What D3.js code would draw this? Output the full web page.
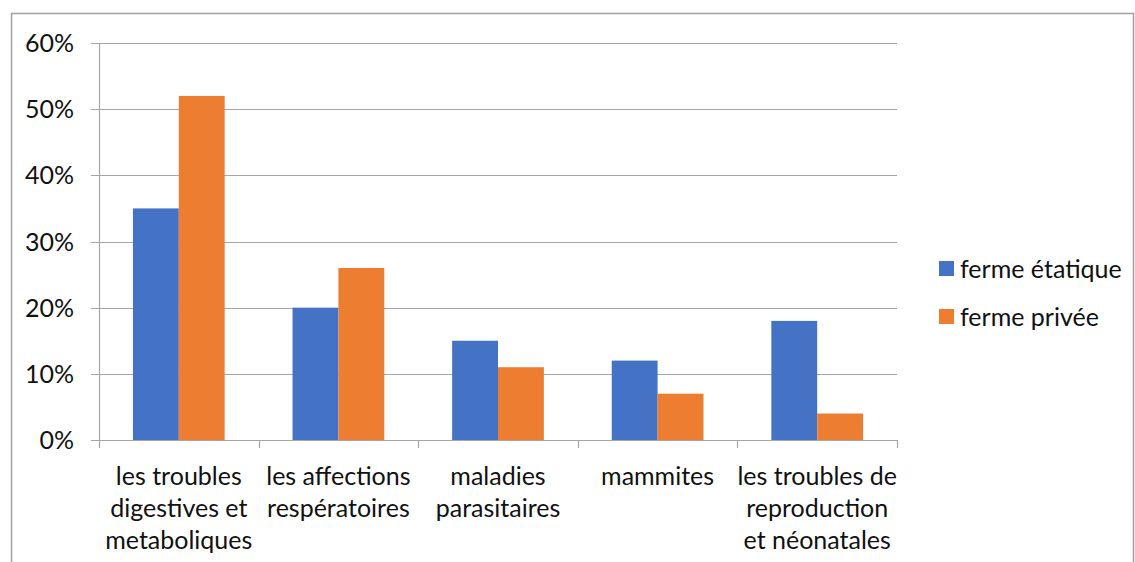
<!DOCTYPE html>
<html><head><meta charset="utf-8">
<script src="https://cdn.jsdelivr.net/npm/d3@7"></script>
<style>body{margin:0;background:#fff;} svg{display:block;font-family:Lato, "Open Sans", sans-serif;}</style>
</head><body>
<svg id="c" width="1135" height="562"></svg>
<script>
const categories = [
  ["les troubles", "digestives et", "metaboliques"],
  ["les affections", "respératoires"],
  ["maladies", "parasitaires"],
  ["mammites"],
  ["les troubles de", "reproduction", "et néonatales"]
];
const seriesNames = ["ferme étatique", "ferme privée"];
const etatique = [0.35, 0.20, 0.15, 0.12, 0.18];
const privee = [0.52, 0.26, 0.11, 0.07, 0.04];
const yTicks = [0, 0.1, 0.2, 0.3, 0.4, 0.5, 0.6];
const colors = ["#4472C4", "#ED7D31"];

const svg = d3.select("#c");
const L = 99, R = 897, T = 43, B = 440;
const FS = 25;
// frame
svg.append("path").attr("d", "M11.5,562 V13.5 H1133.5 V562").attr("fill", "none").attr("stroke", "#a0a0a0").attr("stroke-width", 1.5);

const x = d3.scaleBand().domain(d3.range(categories.length)).range([L, R]).paddingInner(0).paddingOuter(0);
const x1 = d3.scaleBand().domain([0, 1]).range([0, x.bandwidth()]).paddingInner(0).paddingOuter(0.74);
const y = d3.scaleLinear().domain([0, 0.6]).range([B, T]);

// gridlines
svg.append("g").selectAll("line").data(yTicks).join("line")
  .attr("x1", L - 8).attr("x2", R).attr("y1", d => Math.round(y(d)) + 0.5).attr("y2", d => Math.round(y(d)) + 0.5)
  .attr("stroke", "#a6a6a6").attr("stroke-width", 1.2);
svg.append("line").attr("x1", L + 0.5).attr("x2", L + 0.5).attr("y1", T).attr("y2", B).attr("stroke", "#a6a6a6").attr("stroke-width", 1.2);

// y labels
svg.append("g").selectAll("text").data(yTicks).join("text")
  .attr("x", 74).attr("y", d => y(d) + 9).attr("text-anchor", "end")
  .attr("font-size", FS).attr("fill", "#111").text(d3.format(".0%"));

// bars
const data = categories.map((c, i) => [etatique[i], privee[i]]);
const g = svg.append("g");
data.forEach((vals, i) => {
  vals.forEach((v, s) => {
    g.append("rect").attr("x", x(i) + x1(s)).attr("width", x1.bandwidth())
      .attr("y", y(v)).attr("height", y(0) - y(v)).attr("fill", colors[s]);
  });
});

// x axis baseline & ticks
svg.append("line").attr("x1", L).attr("x2", R).attr("y1", B + 0.5).attr("y2", B + 0.5).attr("stroke", "#a6a6a6").attr("stroke-width", 1.2);
const tickXs = d3.range(categories.length).map(i => x(i)).concat([R]);
svg.append("g").selectAll("line").data(tickXs).join("line")
  .attr("x1", d => Math.round(d) + 0.5).attr("x2", d => Math.round(d) + 0.5).attr("y1", B).attr("y2", B + 8)
  .attr("stroke", "#a6a6a6").attr("stroke-width", 1.2);

// x labels
categories.forEach((lines, i) => {
  const t = svg.append("text").attr("text-anchor", "middle").attr("font-size", FS).attr("fill", "#111");
  lines.forEach((ln, k) => {
    t.append("tspan").attr("x", x(i) + x.bandwidth() / 2).attr("y", 485 + k * 32).text(ln);
  });
});

// legend
seriesNames.forEach((n, s) => {
  svg.append("rect").attr("x", 939).attr("y", 261 + s * 48).attr("width", 15).attr("height", 15).attr("fill", colors[s]);
  svg.append("text").attr("x", 960).attr("y", 278 + s * 48).attr("font-size", FS).attr("fill", "#111").text(n);
});
</script>
</body></html>
